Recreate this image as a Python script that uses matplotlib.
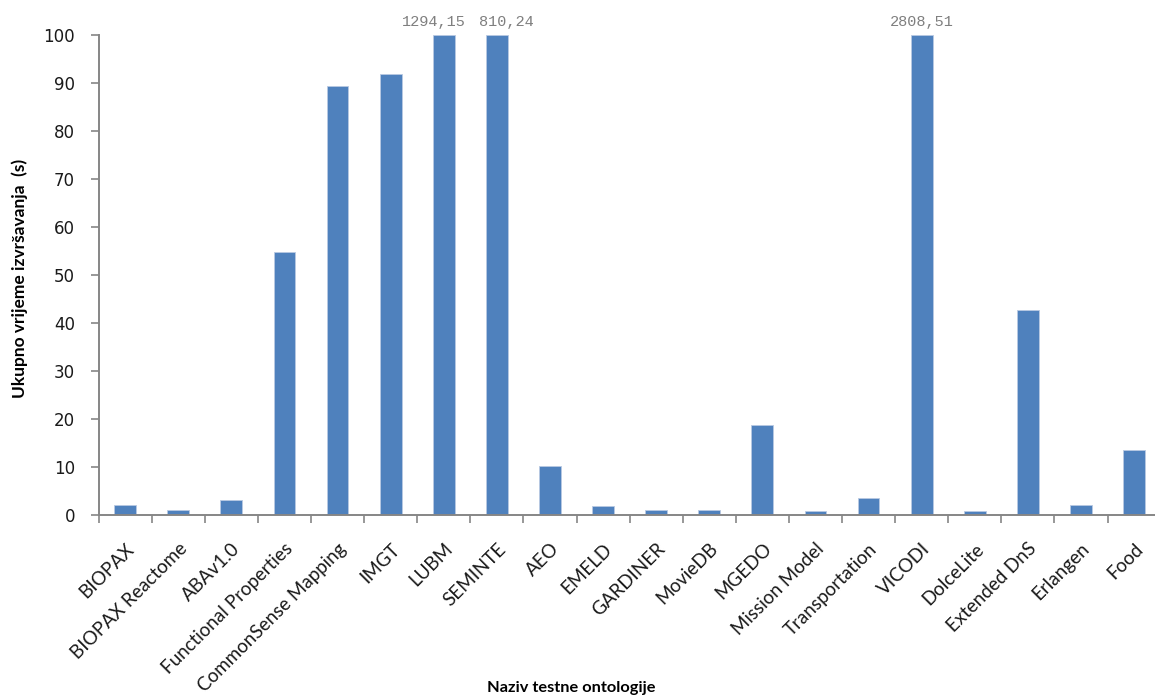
import matplotlib
matplotlib.use("Agg")
import matplotlib.pyplot as plt
import numpy as np

categories = ["BIOPAX", "BIOPAX Reactome", "ABAv1.0", "Functional Properties",
              "CommonSense Mapping", "IMGT", "LUBM", "SEMINTE", "AEO", "EMELD",
              "GARDINER", "MovieDB", "MGEDO", "Mission Model", "Transportation",
              "VICODI", "DolceLite", "Extended DnS", "Erlangen", "Food"]
values = [2.1, 1.0, 3.1, 54.8, 89.4, 91.9, 1294.15, 810.24, 10.2, 1.9,
          1.1, 1.1, 18.7, 0.8, 3.5, 2808.51, 0.8, 42.7, 2.1, 13.5]
y_ticks = [0, 10, 20, 30, 40, 50, 60, 70, 80, 90, 100]
y_max = 100
# horizontal nudges (points) for overflow labels, to avoid overlap as in the original
label_nudge = {6: -7, 7: 7}

fig = plt.figure(figsize=(11.55, 6.97), dpi=100)
ax = fig.add_axes([98.6 / 1155, 1 - 515 / 697, 1062 / 1155, 480 / 697])

x = np.arange(len(categories))
shown = [min(v, y_max) for v in values]
ax.bar(x, shown, width=0.41, color="#4F81BD", edgecolor="#B9C9E2", linewidth=0.6, zorder=2)

for i, (xi, v) in enumerate(zip(x, values)):
    if v > y_max:
        ax.annotate(f"{v:.2f}".replace(".", ","), xy=(xi, y_max), xytext=(label_nudge.get(i, 0), 4),
                    textcoords="offset points", ha="center", va="bottom",
                    family="Liberation Mono", fontsize=11, color="#7F7F7F",
                    annotation_clip=False)

ax.set_xlim(-0.5, len(categories) - 0.5)
ax.set_ylim(0, y_max)
ax.set_yticks(y_ticks)
ax.tick_params(axis="y", length=6, width=1.2, color="#868686", labelsize=12,
               labelcolor="#1a1a1a", pad=11)
ax.set_xticks(x)
ax.set_xticklabels(categories, rotation=45, ha="right", rotation_mode="anchor",
                   family="Lato", fontsize=13.5, color="#1a1a1a")
ax.tick_params(axis="x", length=0, pad=18)
ax.set_xticks(np.arange(-0.5, len(categories) + 0.5, 1), minor=True)
ax.tick_params(axis="x", which="minor", length=6, width=1.2, color="#868686")

for s in ["top", "right"]:
    ax.spines[s].set_visible(False)
for s in ["left", "bottom"]:
    ax.spines[s].set_color("#868686")
    ax.spines[s].set_linewidth(1.4)

fig.text(0.017, 0.600, "Ukupno vrijeme izvršavanja  (s)", rotation=90, ha="center",
         va="center", fontsize=12.5, fontweight="bold", family="Lato")
fig.text(571 / 1155, 1 - 688 / 697, "Naziv testne ontologije", ha="center", va="center",
         fontsize=11.8, fontweight="bold", family="Lato")

fig.savefig("out.png", dpi=100)
